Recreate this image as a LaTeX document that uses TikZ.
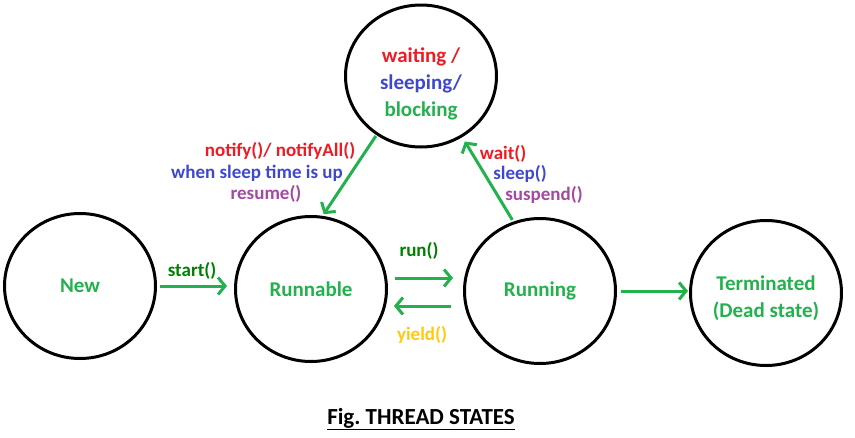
\documentclass[tikz,border=0pt]{standalone}
\usepackage{fontspec}
\setmainfont{Carlito}
\frenchspacing
\usetikzlibrary{arrows.meta,shapes.geometric}
\definecolor{stategreen}{RGB}{34,177,76}
\definecolor{callgreen}{RGB}{0,128,0}
\definecolor{waitred}{RGB}{237,28,36}
\definecolor{sleepblue}{RGB}{63,72,204}
\definecolor{resumepurple}{RGB}{163,73,164}
\definecolor{yieldgold}{RGB}{255,201,14}
\tikzset{
  State/.style = {ellipse, draw = black, line width = 3pt, minimum width = 151pt,
                  minimum height = 145pt, inner sep = 0pt, align = center,
                  text = stategreen, font = \fontsize{21}{27}\selectfont\bfseries},
  Trans/.style = {draw = stategreen, line width = 3pt,
                  -{Straight Barb[length=7pt,width=17pt]}},
  Call/.style  = {inner sep = 0pt, anchor = mid, font = \fontsize{19}{22}\selectfont\bfseries}
}

\begin{document}
\begin{tikzpicture}[x = 1pt, y = -1pt]
\useasboundingbox (0,0) rectangle (855,437);
\node[State] (New) at (80,286) {New};
\node[State] (Runnable) at (311,289) {Runnable};
\node[State] (Running) at (540,291) {Running};
\node[State] (Terminated) at (766,293)
  {\raisebox{-6pt}[\height][\depth]{\begin{tabular}{@{}c@{}}Terminated\\(Dead state)\end{tabular}}};
\node[State, minimum height = 142pt] (Waiting) at (421,76)
  {\raisebox{-8pt}[\height][\depth]{\begin{tabular}{@{}c@{}}\textcolor{waitred}{waiting /}\\
   \textcolor{sleepblue}{sleeping/}\\blocking\end{tabular}}};

\draw[Trans, shorten <= 3pt, shorten >= 7pt] (New.east) -- (New.east -| Runnable.west);
\draw[Trans, shorten <= 7pt, shorten >= 10pt] ([yshift=11pt]Runnable.east) -- ([yshift=11pt]Runnable.east -| Running.west);
\draw[Trans, shorten <= 12pt, shorten >= 6pt] ([yshift=-15pt]Running.west) -- ([yshift=-15pt]Running.west -| Runnable.east);
\draw[Trans, shorten <= 4pt, shorten >= 1pt] (Running.east) -- (Running.east -| Terminated.west);
\draw[Trans, shorten <= 1pt, shorten >= 2pt] (Waiting.233) -- (Runnable.81);
\draw[Trans, shorten <= 2pt, shorten >= 5pt] (Running.111) -- (Waiting.304);

\node[Call, text = callgreen] (StartCall) at (192,274) {start()};
\node[Call, text = callgreen] (RunCall) at (419,254) {run()};
\node[Call, text = yieldgold] (YieldCall) at (422,338) {yield()};
\node[Call, text = waitred] (NotifyCall) at (280,154) {notify()/ notifyAll()};
\node[Call, text = sleepblue] (TimeUp) at (257,176) {when sleep time is up};
\node[Call, text = resumepurple] (ResumeCall) at (266,197) {resume()};
\node[Call, text = waitred] (WaitCall) at (503,157) {wait()};
\node[Call, text = sleepblue] (SleepCall) at (520,177) {sleep()};
\node[Call, text = resumepurple] (SuspendCall) at (544,198) {suspend()};
\node[inner sep = 0pt, anchor = base, font = \fontsize{23}{27}\selectfont\bfseries] (Caption) at (421,424)
  {\underline{Fig. THREAD STATES}};
\end{tikzpicture}
\end{document}
